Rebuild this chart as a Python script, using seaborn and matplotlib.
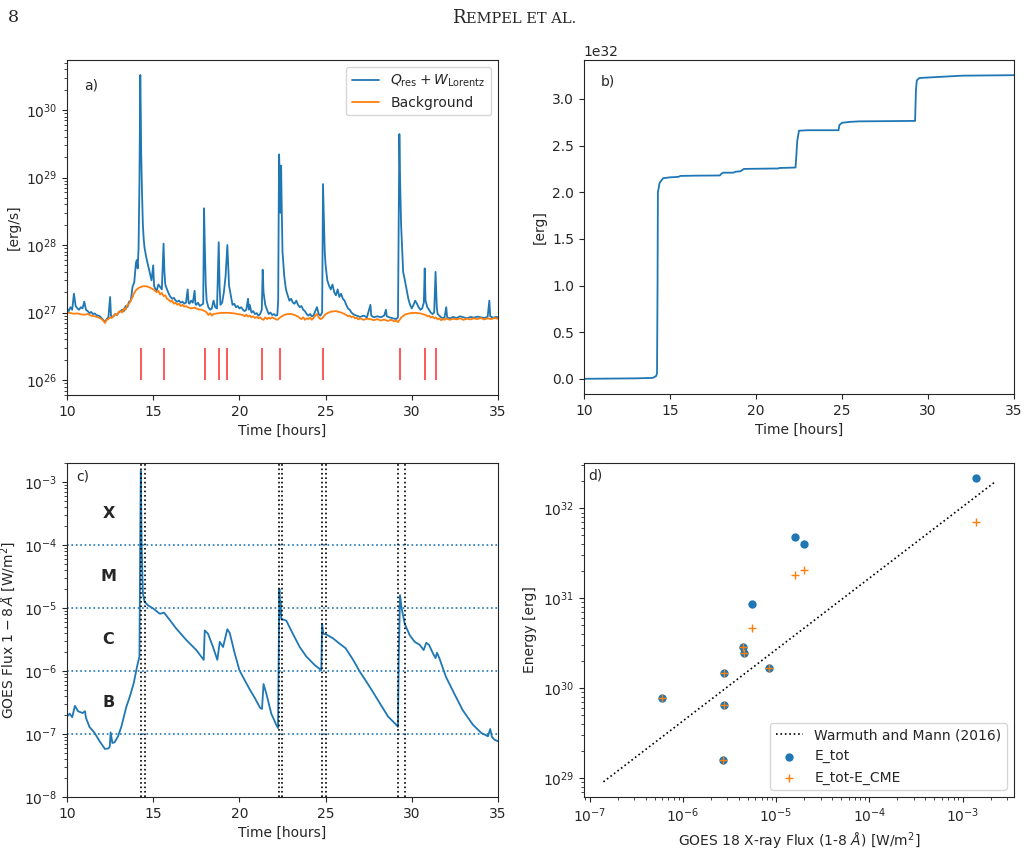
import numpy as np
import matplotlib
matplotlib.use("Agg")
import matplotlib.pyplot as plt
import seaborn as sns

sns.set_style("ticks")
plt.rcParams['font.family'] = ['DejaVu Sans']
plt.rcParams['font.size'] = 10

# ---- panel a: heating rate [1e27 erg/s] ----
qa_time = [10.0, 10.1, 10.2, 10.3, 10.4, 10.5, 10.6, 10.7, 10.8, 10.9, 11.0, 11.1, 11.2, 11.3, 11.4,
           11.5, 11.6, 11.7, 11.8, 11.9, 12.0, 12.1, 12.2, 12.3, 12.4, 12.5, 12.55, 12.6, 12.7, 12.8,
           12.9, 13.0, 13.1, 13.2, 13.3, 13.4, 13.5, 13.6, 13.7, 13.8, 13.9, 14.0, 14.05, 14.1, 14.15,
           14.2, 14.25, 14.28, 14.3, 14.35, 14.4, 14.45, 14.5, 14.6, 14.7, 14.8, 14.9, 15.0, 15.05, 15.1,
           15.2, 15.3, 15.4, 15.5, 15.6, 15.65, 15.7, 15.8, 15.9, 16.0, 16.1, 16.2, 16.3, 16.4, 16.5,
           16.6, 16.7, 16.8, 16.9, 17.0, 17.05, 17.1, 17.2, 17.3, 17.4, 17.45, 17.5, 17.6, 17.7, 17.8,
           17.9, 17.95, 18.0, 18.05, 18.1, 18.2, 18.3, 18.4, 18.5, 18.6, 18.7, 18.8, 18.85, 18.9, 19.0,
           19.1, 19.2, 19.3, 19.35, 19.4, 19.5, 19.6, 19.7, 19.8, 19.9, 20.0, 20.1, 20.2, 20.3, 20.4,
           20.5, 20.55, 20.6, 20.7, 20.8, 20.9, 21.0, 21.1, 21.2, 21.3, 21.35, 21.4, 21.5, 21.6, 21.7,
           21.8, 21.9, 22.0, 22.1, 22.2, 22.25, 22.3, 22.35, 22.38, 22.42, 22.46, 22.5, 22.6, 22.7, 22.8,
           22.9, 23.0, 23.1, 23.2, 23.3, 23.4, 23.5, 23.6, 23.7, 23.8, 23.9, 24.0, 24.1, 24.2, 24.3,
           24.4, 24.5, 24.6, 24.7, 24.8, 24.85, 24.9, 24.95, 25.0, 25.1, 25.2, 25.3, 25.4, 25.5, 25.6,
           25.7, 25.8, 25.9, 26.0, 26.1, 26.2, 26.3, 26.4, 26.5, 26.6, 26.7, 26.8, 26.9, 27.0, 27.2,
           27.4, 27.6, 27.65, 27.8, 28.0, 28.2, 28.4, 28.5, 28.55, 28.7, 28.9, 29.1, 29.2, 29.28, 29.32,
           29.38, 29.45, 29.5, 29.6, 29.7, 29.8, 29.9, 30.0, 30.1, 30.2, 30.3, 30.4, 30.5, 30.6, 30.7,
           30.75, 30.8, 30.9, 31.0, 31.1, 31.2, 31.3, 31.38, 31.45, 31.5, 31.6, 31.7, 31.8, 31.9, 32.0,
           32.05, 32.2, 32.4, 32.6, 32.8, 33.0, 33.2, 33.4, 33.6, 33.8, 34.0, 34.2, 34.4, 34.5, 34.55,
           34.7, 34.9, 35.0]
qa_val = [1.15, 1.05, 1.2, 1.1, 1.9, 1.25, 1.15, 1.1, 1.2, 1.15, 1.45, 1.1, 1.05, 0.98, 1.02,
          0.95, 0.97, 0.92, 0.9, 0.88, 0.83, 0.78, 0.72, 0.8, 0.85, 1.7, 0.9, 0.85, 0.88, 0.95,
          0.92, 1.0, 1.05, 1.1, 1.05, 1.25, 1.2, 1.45, 1.5, 2.4, 2.8, 5.5, 6.0, 4.5, 9.0,
          80, 3300, 900, 250, 60, 20, 12, 9, 6.5, 5.0, 3.8, 3.0, 5.0, 2.5, 2.3,
          2.1, 2.6, 2.4, 2.2, 10.5, 4.0, 2.6, 2.2, 1.9, 1.7, 1.6, 1.65, 1.5, 1.45, 1.5,
          1.4, 1.45, 1.35, 1.4, 2.2, 1.4, 1.35, 1.5, 1.4, 2.1, 1.35, 1.3, 1.4, 1.25, 1.3,
          1.35, 35, 8, 2.5, 1.5, 1.2, 1.1, 1.15, 1.5, 1.2, 1.15, 11, 2.5, 1.3, 1.4,
          2.0, 3.5, 10, 5, 2.5, 1.8, 1.3, 1.35, 1.2, 1.25, 1.15, 1.2, 1.1, 1.05, 1.1,
          1.6, 1.1, 1.3, 1.0, 1.05, 0.95, 0.98, 0.9, 0.95, 1.1, 4.3, 2.0, 1.3, 1.1, 0.95,
          1.0, 0.92, 0.95, 0.9, 0.92, 1.5, 220, 100, 30, 150, 30, 8, 3.5, 2.2, 1.8,
          1.5, 1.6, 1.4, 1.35, 1.5, 1.3, 1.2, 1.25, 1.1, 1.05, 0.95, 0.9, 0.95, 0.88, 0.9,
          1.05, 1.2, 0.95, 0.9, 1.0, 80, 25, 8, 5, 3.0, 2.5, 2.2, 2.6, 2.0, 1.8,
          2.2, 1.7, 1.9, 1.6, 1.5, 1.3, 1.15, 1.1, 1.0, 0.95, 0.92, 0.9, 0.88, 0.86, 0.9,
          0.85, 1.3, 0.9, 0.85, 0.88, 0.85, 0.9, 1.1, 0.88, 0.85, 0.82, 0.8, 0.85, 440, 100,
          20, 8, 4.0, 3.0, 2.2, 1.6, 1.3, 1.15, 1.3, 1.5, 1.35, 1.2, 1.1, 1.15, 1.4,
          4.5, 1.5, 1.2, 1.1, 1.0, 0.95, 1.0, 4.0, 1.2, 0.95, 0.9, 0.85, 0.82, 0.85, 1.2,
          0.85, 0.82, 0.86, 0.83, 0.88, 0.85, 0.82, 0.86, 0.84, 0.87, 0.85, 0.83, 0.86, 1.5, 0.88,
          0.84, 0.86, 0.85]

bg_time = [10.0, 10.2, 10.4, 10.6, 10.8, 11.0, 11.2, 11.4, 11.6, 11.8, 12.0, 12.1, 12.2, 12.3, 12.4,
           12.5, 12.6, 12.7, 12.8, 12.9, 13.0, 13.1, 13.2, 13.3, 13.4, 13.5, 13.6, 13.7, 13.8, 13.9,
           14.0, 14.2, 14.4, 14.6, 14.8, 15.0, 15.2, 15.3, 15.4, 15.5, 15.6, 15.7, 15.8, 15.9, 16.0,
           16.1, 16.2, 16.3, 16.4, 16.5, 16.6, 16.7, 16.8, 16.9, 17.0, 17.2, 17.4, 17.6, 17.8, 18.0,
           18.1, 18.2, 18.3, 18.4, 18.5, 18.8, 19.1, 19.4, 19.7, 20.0, 20.2, 20.3, 20.4, 20.5, 20.6,
           20.7, 20.8, 20.9, 21.0, 21.1, 21.2, 21.3, 21.4, 21.5, 21.6, 21.7, 21.8, 21.9, 22.0, 22.1,
           22.2, 22.4, 22.6, 22.8, 23.0, 23.2, 23.4, 23.5, 23.6, 23.7, 23.8, 23.9, 24.0, 24.1, 24.2,
           24.3, 24.4, 24.5, 24.6, 24.7, 24.8, 25.0, 25.3, 25.6, 25.9, 26.1, 26.2, 26.3, 26.4, 26.5,
           26.6, 26.7, 26.8, 26.9, 27.0, 27.2, 27.4, 27.6, 27.8, 28.0, 28.2, 28.4, 28.6, 28.8, 29.0,
           29.1, 29.2, 29.4, 29.6, 29.9, 30.2, 30.5, 30.8, 30.9, 31.0, 31.1, 31.2, 31.3, 31.4, 31.5,
           31.6, 31.7, 31.8, 31.9, 32.0, 32.2, 32.4, 32.6, 32.8, 33.0, 33.2, 33.4, 33.6, 33.8, 34.0,
           34.2, 34.4, 34.6, 34.8, 35.0]
bg_val = [1.0, 0.98, 0.96, 0.97, 0.94, 0.93, 0.95, 0.9, 0.88, 0.85, 0.8, 0.76, 0.7, 0.78, 0.8,
          0.85, 0.83, 0.9, 0.95, 0.92, 1.02, 1.05, 1.0, 1.15, 1.1, 1.3, 1.35, 1.5, 1.7, 1.95,
          2.15, 2.35, 2.45, 2.45, 2.35, 2.2, 2.0, 2.1, 1.85, 1.95, 1.75, 1.8, 1.6, 1.55, 1.45,
          1.5, 1.35, 1.4, 1.3, 1.35, 1.25, 1.3, 1.22, 1.25, 1.2, 1.15, 1.18, 1.12, 1.1, 1.05,
          1.0, 0.92, 0.98, 0.9, 0.95, 0.98, 0.99, 0.99, 0.97, 0.94, 0.92, 0.88, 0.93, 0.87, 0.9,
          0.85, 0.88, 0.83, 0.86, 0.82, 0.85, 0.8, 0.78, 0.85, 0.8, 0.84, 0.81, 0.85, 0.82, 0.8,
          0.78, 0.86, 0.92, 0.95, 0.95, 0.92, 0.87, 0.83, 0.8, 0.85, 0.78, 0.82, 0.8, 0.84, 0.78,
          0.83, 0.9, 0.95, 0.85, 0.8, 0.82, 0.95, 1.03, 1.05, 1.0, 0.95, 0.92, 0.88, 0.9, 0.85,
          0.88, 0.82, 0.84, 0.79, 0.82, 0.78, 0.81, 0.8, 0.77, 0.8, 0.76, 0.79, 0.75, 0.78, 0.74,
          0.76, 0.72, 0.85, 0.93, 0.98, 0.99, 0.97, 0.92, 0.88, 0.9, 0.84, 0.87, 0.82, 0.85, 0.79,
          0.82, 0.77, 0.8, 0.78, 0.82, 0.78, 0.81, 0.79, 0.82, 0.78, 0.81, 0.79, 0.82, 0.8, 0.83,
          0.79, 0.82, 0.8, 0.83, 0.81]

flare_times = [14.29, 15.63, 17.99, 18.80, 19.27, 21.34, 22.35, 24.86, 29.30, 30.75, 31.43]

# ---- panel b: cumulative energy [1e32 erg] ----
cum_time = [10.0, 13.0, 14.0, 14.2, 14.25, 14.28, 14.3, 14.4, 14.6, 15.0, 15.5, 15.6, 16.5, 17.9,
            18.0, 18.1, 18.7, 18.8, 19.1, 19.3, 20.0, 21.3, 21.35, 22.3, 22.35, 22.4, 22.5, 23.0,
            24.8, 24.85, 25.0, 25.5, 26.0, 29.25, 29.3, 29.35, 29.5, 30.0, 31.0, 32.0, 35.0]
cum_val = [0.0, 0.005, 0.01, 0.03, 0.06, 1.0, 2.0, 2.1, 2.15, 2.16, 2.165, 2.175, 2.178, 2.18,
           2.2, 2.21, 2.21, 2.22, 2.225, 2.25, 2.252, 2.255, 2.26, 2.265, 2.4, 2.55, 2.66, 2.665,
           2.665, 2.72, 2.745, 2.755, 2.76, 2.765, 3.1, 3.2, 3.225, 3.23, 3.24, 3.25, 3.255]

# ---- panel c: GOES 1-8 A flux [W/m^2] ----
goes_time = [10.0, 10.15, 10.3, 10.46, 10.64, 10.9, 11.04, 11.1, 11.3, 11.6, 11.9, 12.2, 12.4, 12.48,
             12.53, 12.63, 12.76, 12.96, 13.15, 13.44, 13.64, 13.87, 14.06, 14.2, 14.25, 14.28, 14.33,
             14.4, 14.5, 14.7, 15.0, 15.38, 15.63, 15.76, 16.34, 16.92, 17.5, 17.93, 17.99, 18.18,
             18.47, 18.72, 18.86, 19.05, 19.3, 19.44, 19.73, 20.0, 20.3, 20.6, 20.9, 21.2, 21.31,
             21.4, 21.56, 21.85, 22.14, 22.24, 22.3, 22.32, 22.36, 22.38, 22.43, 22.72, 23.1, 23.5,
             23.88, 24.37, 24.75, 24.8, 24.87, 25.04, 25.43, 25.82, 26.16, 26.6, 26.98, 27.56,
             28.14, 28.62, 29.1, 29.2, 29.24, 29.32, 29.4, 29.59, 29.88, 30.17, 30.46, 30.69,
             30.84, 31.0, 31.23, 31.38, 31.46, 31.6, 31.98, 32.46, 32.95, 33.55, 34.03, 34.42,
             34.55, 34.65, 34.8, 35.0]
goes_flux = [1.9e-7, 2.1e-7, 1.85e-7, 2.8e-7, 2.3e-7, 2.15e-7, 2.3e-7, 1.8e-7, 1.3e-7, 1.04e-7,
             7.6e-8, 5.8e-8, 5.9e-8, 6.3e-8, 1.06e-7, 7.2e-8, 7.4e-8, 9.2e-8, 1.3e-7, 2.7e-7,
             3.9e-7, 6.4e-7, 1.17e-6, 1.7e-6, 1.7e-4, 1.5e-3, 1.0e-4, 1.7e-5, 1.25e-5, 1.1e-5,
             9.8e-6, 8.1e-6, 8.4e-6, 7.6e-6, 4.7e-6, 3.1e-6, 2.15e-6, 1.5e-6, 4.4e-6, 3.9e-6,
             2.4e-6, 1.5e-6, 2.9e-6, 2.4e-6, 4.6e-6, 4.0e-6, 1.9e-6, 1.03e-6, 7.2e-7, 5.1e-7,
             3.7e-7, 2.6e-7, 2.5e-7, 6.2e-7, 4.4e-7, 2.1e-7, 1.4e-7, 1.24e-7, 7e-6, 2.0e-5,
             8e-6, 1.3e-5, 6.7e-6, 6.3e-6, 3.9e-6, 2.4e-6, 1.7e-6, 1.24e-6, 1.03e-6, 5.6e-6,
             3.9e-6, 3.8e-6, 3.3e-6, 2.7e-6, 2.3e-6, 1.5e-6, 9.8e-7, 5.6e-7, 3.1e-7, 1.9e-7,
             1.4e-7, 1.3e-7, 1.5e-6, 1.6e-5, 1.03e-5, 5.6e-6, 3.7e-6, 2.9e-6, 2.6e-6, 2.15e-6,
             2.8e-6, 2.6e-6, 1.9e-6, 1.6e-6, 1.95e-6, 1.6e-6, 8.1e-7, 4.4e-7, 2.4e-7, 1.4e-7,
             1.04e-7, 9.2e-8, 1.2e-7, 9.0e-8, 8.1e-8, 7.7e-8]

class_levels = [1e-7, 1e-6, 1e-5, 1e-4]
class_names = ['B', 'C', 'M', 'X']
class_mid = [3.16e-7, 3.16e-6, 3.16e-5, 3.16e-4]
flare_start = [14.27, 22.28, 24.79, 29.20]
flare_end = [14.52, 22.47, 25.04, 29.59]

# ---- panel d: energy vs GOES peak flux ----
peak_flux = [1.41e-3, 1.58e-5, 1.99e-5, 5.51e-6, 4.38e-6, 4.49e-6, 8.38e-6, 2.76e-6, 6.04e-7,
             2.76e-6, 2.67e-6]
e_tot = [2.17e32, 4.77e31, 4.03e31, 8.56e30, 2.91e30, 2.45e30, 1.69e30, 1.49e30, 7.82e29,
         6.59e29, 1.61e29]
e_no_cme = [7.11e31, 1.80e31, 2.07e31, 4.66e30, 2.91e30, 2.45e30, 1.69e30, 1.49e30, 7.82e29,
            6.59e29, 1.61e29]
wm_flux = [1.41e-7, 2.2e-3]
wm_energy = [9.1e28, 1.95e32]

fig = plt.figure(figsize=(10.28, 8.61), dpi=100)
ax_a = fig.add_axes([0.0652, 0.5412, 0.4192, 0.3891])
ax_b = fig.add_axes([0.568, 0.5424, 0.4184, 0.3879])
ax_c = fig.add_axes([0.0652, 0.0743, 0.4192, 0.388])
ax_d = fig.add_axes([0.568, 0.0743, 0.4184, 0.388])

# a)
sns.lineplot(x=qa_time, y=np.array(qa_val) * 1e27, ax=ax_a, color='C0', lw=1.3,
             label=r'$Q_{\mathrm{res}}+W_{\mathrm{Lorentz}}$', errorbar=None)
sns.lineplot(x=bg_time, y=np.array(bg_val) * 1e27, ax=ax_a, color='C1', lw=1.3,
             label='Background', errorbar=None)
ax_a.vlines(flare_times, 1e26, 3e26, color='red', alpha=0.7, lw=1.3)
ax_a.set_yscale('log')
ax_a.set_xlim(10, 35)
ax_a.set_ylim(6e25, 5.5e30)
ax_a.set_xlabel('Time [hours]')
ax_a.set_ylabel('[erg/s]')
ax_a.legend(loc='upper right', fontsize=10)
ax_a.text(0.056, 0.925, 'a)', transform=ax_a.transAxes, ha='center', va='center')

# b)
sns.lineplot(x=cum_time, y=np.array(cum_val) * 1e32, ax=ax_b, color='C0', lw=1.3, errorbar=None)
ax_b.set_xlim(10, 35)
ax_b.set_xlabel('Time [hours]')
ax_b.set_ylabel('[erg]')
ax_b.text(0.056, 0.937, 'b)', transform=ax_b.transAxes, ha='center', va='center')

# c)
sns.lineplot(x=goes_time, y=goes_flux, ax=ax_c, color='C0', lw=1.3, errorbar=None)
for lev in class_levels:
    ax_c.axhline(lev, color='C0', ls=':', lw=1.2)
for t0, t1 in zip(flare_start, flare_end):
    ax_c.axvline(t0, color='k', ls=':', lw=1.2)
    ax_c.axvline(t1, color='k', ls=':', lw=1.2)
for name, ym in zip(class_names, class_mid):
    ax_c.text(12.4, ym, name, ha='center', va='center', fontsize=11.5, fontweight='bold')
ax_c.set_yscale('log')
ax_c.set_xlim(10, 35)
ax_c.set_ylim(1e-8, 2e-3)
ax_c.set_xlabel('Time [hours]')
ax_c.set_ylabel(r'GOES Flux $1-8\,\AA$ [W/m$^2$]')
ax_c.text(0.036, 0.958, 'c)', transform=ax_c.transAxes, ha='center', va='center')

# d)
sns.lineplot(x=wm_flux, y=wm_energy, ax=ax_d, color='k', ls=':', lw=1.2,
             label='Warmuth and Mann (2016)', errorbar=None)
sns.scatterplot(x=peak_flux, y=e_tot, ax=ax_d, color='C0', s=36, linewidth=0, label='E_tot')
sns.scatterplot(x=peak_flux, y=e_no_cme, ax=ax_d, color='C1', marker='+', s=30,
                linewidth=1.0, label='E_tot-E_CME')
ax_d.set_xscale('log')
ax_d.set_yscale('log')
ax_d.set_xlabel(r'GOES 18 X-ray Flux (1-8 $\AA$) [W/m$^2$]')
ax_d.set_ylabel('Energy [erg]')
ax_d.legend(loc='lower right', fontsize=10)
ax_d.text(0.027, 0.963, 'd)', transform=ax_d.transAxes, ha='center', va='center')

# page header
fig.text(8 / 1028, 1 - 18 / 861, '8', family='DejaVu Serif', fontsize=12.5, ha='left', va='center')
fig.text(466 / 1028, 1 - 18 / 861, 'R', family='DejaVu Serif', fontsize=13, ha='right', va='center')
fig.text(466 / 1028, 1 - 19 / 861, 'EMPEL ET AL.', family='DejaVu Serif', fontsize=10.5,
         ha='left', va='center')

fig.savefig('out.png', dpi=100)
